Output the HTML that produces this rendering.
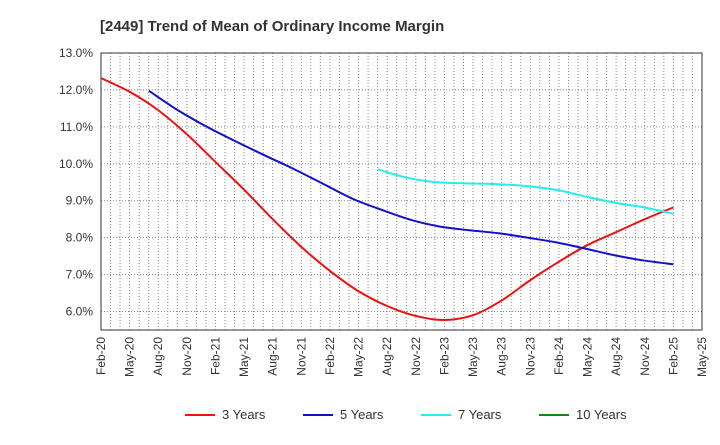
<!DOCTYPE html>
<html><head><meta charset="utf-8"><style>
body{margin:0;background:#fff;font-family:"Liberation Sans",sans-serif;}
svg text{font-family:"Liberation Sans",sans-serif;}
</style></head><body>
<svg id="chart" width="720" height="440">
<text x="100" y="31" font-size="15" font-weight="bold" fill="#333">[2449]  Trend of Mean of Ordinary Income Margin</text>
<g id="grid"></g><g id="axes"></g><g id="series"></g><g id="legend"></g>
</svg>
<script>
const xLabels=["Feb-20","May-20","Aug-20","Nov-20","Feb-21","May-21","Aug-21","Nov-21","Feb-22","May-22","Aug-22","Nov-22","Feb-23","May-23","Aug-23","Nov-23","Feb-24","May-24","Aug-24","Nov-24","Feb-25","May-25"];
const yTicks=[6,7,8,9,10,11,12,13];
const s3Start=0;
const s3=[12.32,11.95,11.45,10.8,10.05,9.3,8.5,7.75,7.1,6.55,6.15,5.88,5.77,5.9,6.3,6.85,7.35,7.8,8.15,8.5,8.82];
const s5Start=1.67;
const s5=[11.98,11.45,11.0,10.6,10.22,9.85,9.45,9.05,8.75,8.48,8.3,8.2,8.12,8.0,7.87,7.7,7.52,7.38,7.28];
const s7Start=9.67;
const s7=[9.85,9.62,9.5,9.47,9.45,9.4,9.3,9.12,8.95,8.82,8.65];
const L=101,R=702,T=53,B=330,yMin=5.5,yMax=13;
const X=i=>L+i*(R-L)/(xLabels.length-1);
const Y=v=>T+(yMax-v)*(B-T)/(yMax-yMin);
const NS="http://www.w3.org/2000/svg";
function mk(t,a,p){const e=document.createElementNS(NS,t);for(const k in a)e.setAttribute(k,a[k]);p.appendChild(e);return e;}
const grid=document.getElementById('grid'),axes=document.getElementById('axes'),ser=document.getElementById('series'),leg=document.getElementById('legend');
const months=(xLabels.length-1)*3;
for(let m=1;m<months;m++){const x=L+m*(R-L)/months;const g=mk('line',{x1:x,x2:x,y1:T,y2:B,stroke:'#888','stroke-dasharray':'1,2','stroke-width':1},grid);

}
yTicks.forEach(v=>{const g=mk('line',{x1:L,x2:R,y1:Y(v),y2:Y(v),stroke:'#888','stroke-dasharray':'1,2'},grid);


const t=mk('text',{x:L-8,y:Y(v)+4,'text-anchor':'end','font-size':12,fill:'#333'},axes);t.textContent=v.toFixed(1)+'%';

});
const fr=mk('rect',{x:L,y:T,width:R-L,height:B-T,fill:'none',stroke:'#333'},axes);


xLabels.forEach((l,i)=>{const t=mk('text',{x:0,y:0,'text-anchor':'end','font-size':12,fill:'#333',transform:`translate(${X(i)+4},${B+7}) rotate(-90)`},axes);t.textContent=l;

});
function path(vals,start){const step=(vals.length>1)?1:1;const p=vals.map((v,i)=>[X(start+i),Y(v)]);let d='M'+p[0];for(let i=0;i<p.length-1;i++){const p0=p[i-1]||p[i],p1=p[i],p2=p[i+1],p3=p[i+2]||p2;
const c1=[p1[0]+(p2[0]-p0[0])/6,p1[1]+(p2[1]-p0[1])/6],c2=[p2[0]-(p3[0]-p1[0])/6,p2[1]-(p3[1]-p1[1])/6];d+=`C${c1} ${c2} ${p2}`;}return d;}
function pathScaled(vals,start,end){const p=vals.map((v,i)=>[X(start+i*(end-start)/(vals.length-1)),Y(v)]);let d='M'+p[0];for(let i=0;i<p.length-1;i++){const p0=p[i-1]||p[i],p1=p[i],p2=p[i+1],p3=p[i+2]||p2;
const c1=[p1[0]+(p2[0]-p0[0])/6,p1[1]+(p2[1]-p0[1])/6],c2=[p2[0]-(p3[0]-p1[0])/6,p2[1]-(p3[1]-p1[1])/6];d+=`C${c1} ${c2} ${p2}`;}return d;}
const endIdx=20;
[[s3,s3Start,'#ee1111','series-3-years'],[s5,s5Start,'#1111cc','series-5-years'],[s7,s7Start,'#22eeee','series-7-years']].forEach(([v,s,c,n])=>{
const e=mk('path',{d:pathScaled(v,s,endIdx),fill:'none',stroke:c,'stroke-width':2},ser);

});
[['3 Years','#ee1111',185],['5 Years','#1111cc',303],['7 Years','#22eeee',421],['10 Years','#118811',539]].forEach(([l,c,x])=>{
const g=mk('g',{},leg);


mk('line',{x1:x,x2:x+30,y1:415,y2:415,stroke:c,'stroke-width':2},g);
const t=mk('text',{x:x+37,y:419,'font-size':13,fill:'#333'},g);t.textContent=l;});
</script>
</body></html>
